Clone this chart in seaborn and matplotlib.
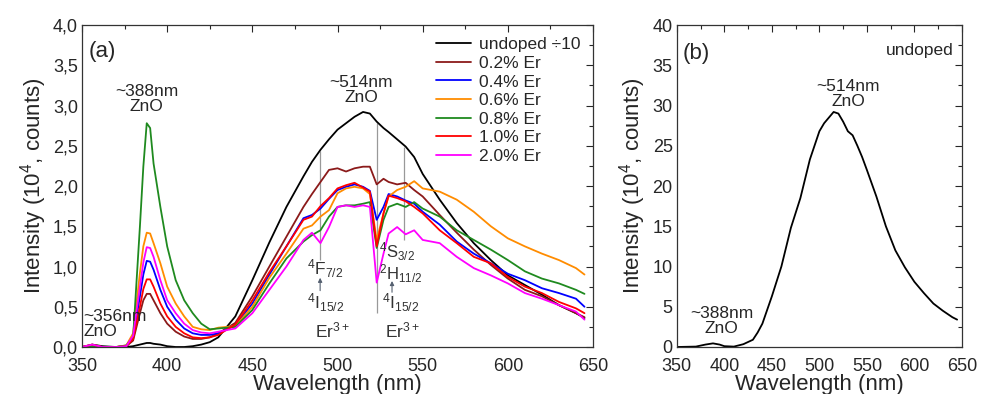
import matplotlib
matplotlib.use("Agg")
import matplotlib.pyplot as plt
from matplotlib.ticker import MultipleLocator, FuncFormatter
from matplotlib.lines import Line2D
import numpy as np
import pandas as pd
import seaborn as sns

# ---- panel (a): PL spectra, wavelength grid shared by all samples ----
wavelength_a = [350, 356, 362, 370, 376, 380, 384, 386, 388, 390, 392, 396, 400, 405,
                410, 415, 420, 425, 430, 440, 450, 460, 470, 480, 485, 490, 495, 500,
                505, 510, 515, 519, 523, 527, 530, 535, 540, 545, 550, 560, 570, 580,
                590, 600, 610, 620, 630, 640, 645]

undoped_div10 = [0.0, 0.03, 0.01, 0.0, 0.0, 0.01, 0.03, 0.04, 0.05, 0.05, 0.04, 0.03, 0.01, 0.0,
                 0.0, 0.01, 0.03, 0.06, 0.12, 0.38, 0.83, 1.30, 1.74, 2.12, 2.30, 2.45, 2.58, 2.70,
                 2.78, 2.86, 2.92, 2.90, 2.80, 2.72, 2.67, 2.58, 2.49, 2.36, 2.15, 1.83, 1.54, 1.29,
                 1.08, 0.89, 0.77, 0.65, 0.52, 0.42, 0.36]
er_02 = [0.0, 0.02, 0.0, 0.0, 0.01, 0.08, 0.42, 0.58, 0.66, 0.66, 0.58, 0.42, 0.29, 0.19,
         0.13, 0.10, 0.10, 0.12, 0.17, 0.30, 0.63, 1.00, 1.37, 1.74, 1.90, 2.05, 2.20, 2.22,
         2.18, 2.22, 2.24, 2.24, 2.02, 2.09, 2.05, 2.02, 2.04, 1.95, 1.87, 1.64, 1.42, 1.21,
         1.02, 0.85, 0.71, 0.63, 0.52, 0.42, 0.37]
er_04 = [0.0, 0.01, 0.0, 0.0, 0.01, 0.12, 0.63, 0.90, 1.07, 1.06, 0.96, 0.71, 0.50, 0.34,
         0.23, 0.17, 0.15, 0.15, 0.17, 0.27, 0.54, 0.90, 1.25, 1.60, 1.64, 1.72, 1.84, 1.95,
         1.99, 2.02, 1.99, 1.94, 1.58, 1.74, 1.90, 1.87, 1.82, 1.78, 1.68, 1.52, 1.31, 1.16,
         1.04, 0.91, 0.83, 0.73, 0.67, 0.60, 0.50]
er_06 = [0.0, 0.01, 0.0, 0.0, 0.02, 0.17, 0.92, 1.25, 1.42, 1.41, 1.29, 1.04, 0.75, 0.54,
         0.38, 0.25, 0.22, 0.21, 0.24, 0.26, 0.50, 0.86, 1.16, 1.47, 1.51, 1.62, 1.70, 1.91,
         1.97, 1.99, 1.97, 1.90, 1.33, 1.66, 1.87, 1.95, 1.99, 2.06, 1.97, 1.93, 1.83, 1.68,
         1.50, 1.35, 1.25, 1.16, 1.08, 0.98, 0.90]
er_08 = [0.0, 0.01, 0.0, 0.0, 0.02, 0.12, 1.50, 2.24, 2.78, 2.72, 2.28, 1.74, 1.25, 0.83,
         0.58, 0.42, 0.29, 0.22, 0.23, 0.25, 0.46, 0.79, 1.10, 1.31, 1.39, 1.45, 1.62, 1.74,
         1.76, 1.76, 1.78, 1.80, 1.23, 1.58, 1.74, 1.78, 1.74, 1.80, 1.72, 1.62, 1.45, 1.33,
         1.21, 1.08, 0.94, 0.85, 0.79, 0.71, 0.66]
er_10 = [0.0, 0.03, 0.0, 0.0, 0.01, 0.10, 0.50, 0.72, 0.84, 0.84, 0.75, 0.54, 0.38, 0.25,
         0.17, 0.12, 0.11, 0.12, 0.15, 0.28, 0.58, 0.93, 1.25, 1.58, 1.62, 1.75, 1.85, 1.97,
         2.01, 2.04, 1.98, 1.93, 1.25, 1.66, 1.88, 1.85, 1.81, 1.74, 1.66, 1.45, 1.29, 1.12,
         1.04, 0.87, 0.75, 0.67, 0.56, 0.48, 0.42]
er_20 = [0.0, 0.03, 0.0, 0.0, 0.01, 0.14, 0.75, 1.05, 1.24, 1.23, 1.12, 0.83, 0.58, 0.42,
         0.29, 0.21, 0.18, 0.17, 0.19, 0.23, 0.42, 0.71, 1.00, 1.33, 1.42, 1.29, 1.49, 1.74,
         1.76, 1.74, 1.76, 1.74, 0.80, 1.16, 1.41, 1.49, 1.40, 1.45, 1.33, 1.29, 1.12, 0.98,
         0.89, 0.79, 0.67, 0.60, 0.52, 0.44, 0.34]

sample_labels = ["undoped \u00f710", "0.2% Er", "0.4% Er", "0.6% Er", "0.8% Er", "1.0% Er", "2.0% Er"]
sample_colors = ["#000000", "#8b1a1a", "#0000ff", "#ff8c00", "#1f8a1f", "#ff0000", "#ff00ff"]

# Er3+ absorption lines marked in (a): wavelength, lower and upper end of marker
er_line_nm = [490, 523, 539]
er_line_lo = [1.08, 0.42, 1.33]
er_line_hi = [2.43, 2.78, 2.49]

# small excitation arrows under the transition labels (nm, tail, head)
arrow_nm = [489.8, 532.0]
arrow_lo = [0.70, 0.68]
arrow_hi = [0.86, 0.82]

# ---- panel (b): undoped sample, full scale ----
wavelength_b = [350, 370, 380, 388, 395, 400, 410, 420, 430, 435, 440, 450, 460, 470, 480,
                490, 500, 505, 510, 515, 520, 525, 530, 535, 540, 545, 550, 560, 570, 580,
                590, 600, 610, 620, 630, 640, 645]
undoped_b = [0.0, 0.05, 0.3, 0.45, 0.3, 0.1, 0.05, 0.35, 0.9, 1.8, 2.9, 6.3, 10.0, 14.8, 18.5,
             23.3, 26.8, 27.8, 28.5, 29.2, 29.0, 28.0, 26.8, 26.3, 25.0, 23.6, 22.0, 18.7, 15.0, 12.0,
             9.9, 8.1, 6.7, 5.4, 4.5, 3.7, 3.4]

series_a = [undoped_div10, er_02, er_04, er_06, er_08, er_10, er_20]
df_a = pd.concat(
    [pd.DataFrame({"wl": wavelength_a, "I": vals, "sample": lab})
     for vals, lab in zip(series_a, sample_labels)],
    ignore_index=True,
)
df_b = pd.DataFrame({"wl": wavelength_b, "I": undoped_b})

sns.set_style("white")
plt.rcParams["font.family"] = ["Liberation Sans", "DejaVu Sans"]
plt.rcParams["mathtext.default"] = "regular"

fig = plt.figure(figsize=(9.81, 3.94), dpi=100)
ax_a = fig.add_axes([0.0836, 0.1193, 0.5209, 0.8172])
ax_b = fig.add_axes([0.690, 0.1193, 0.2905, 0.8172])

palette = dict(zip(sample_labels, sample_colors))
sns.lineplot(data=df_a, x="wl", y="I", hue="sample", palette=palette, ax=ax_a,
             estimator=None, sort=False, linewidth=1.3, legend=False)
sns.lineplot(data=df_b, x="wl", y="I", color="black", ax=ax_b,
             estimator=None, sort=False, linewidth=1.3, legend=False)

ax_a.vlines(er_line_nm, er_line_lo, er_line_hi, colors="#999999", linewidth=0.9, zorder=0)
for x, lo, hi in zip(arrow_nm, arrow_lo, arrow_hi):
    ax_a.annotate("", xy=(x, hi), xytext=(x, lo),
                  arrowprops=dict(arrowstyle="-|>", color="#556070", lw=0.8,
                                  mutation_scale=6, shrinkA=0, shrinkB=0))

comma = FuncFormatter(lambda v, p: f"{v:.1f}".replace(".", ","))
for ax in (ax_a, ax_b):
    ax.set_xlim(350, 650)
    ax.xaxis.set_major_locator(MultipleLocator(50))
    ax.xaxis.set_minor_locator(MultipleLocator(25))
    ax.tick_params(which="both", direction="in", top=True, right=True, labelsize=13)
    ax.tick_params(axis="y", pad=3)
    ax.tick_params(axis="x", pad=8)
    ax.tick_params(which="major", length=5, width=0.8)
    ax.tick_params(which="minor", length=3, width=0.8)
    for s in ax.spines.values():
        s.set_linewidth(0.9)
        s.set_color("#333333")
    ax.set_xlabel("Wavelength (nm)", fontsize=16, labelpad=-1)
    ax.set_ylabel("Intensity (10$^4$, counts)", fontsize=16, labelpad=3)

ax_a.set_ylim(0, 4.0)
ax_a.yaxis.set_major_locator(MultipleLocator(0.5))
ax_a.yaxis.set_minor_locator(MultipleLocator(0.25))
ax_a.yaxis.set_major_formatter(comma)

ax_b.set_ylim(0, 40)
ax_b.yaxis.set_major_locator(MultipleLocator(5))
ax_b.yaxis.set_minor_locator(MultipleLocator(2.5))

handles = [Line2D([], [], color=c, lw=1.3) for c in sample_colors]
ax_a.legend(handles, sample_labels, loc="upper right", frameon=False, fontsize=12.5,
            handlelength=2.0, handletextpad=0.5, labelspacing=0.2,
            borderaxespad=0.4, borderpad=0.3)

# annotations (a)
ax_a.text(0.012, 0.918, "(a)", transform=ax_a.transAxes, fontsize=16, va="center")
ax_a.text(388, 3.08, "~388nm\nZnO", ha="center", va="center", fontsize=12.5, linespacing=1.0)
ax_a.text(350.6, 0.29, "~356nm\nZnO", ha="left", va="center", fontsize=12.5, linespacing=1.0)
ax_a.text(514, 3.19, "~514nm\nZnO", ha="center", va="center", fontsize=12.5, linespacing=1.0)

trans_col = "#333333"
ax_a.text(482, 0.97, "$^4$F$_{7/2}$", fontsize=12.5, color=trans_col, va="center")
ax_a.text(482, 0.55, "$^4$I$_{15/2}$", fontsize=12.5, color=trans_col, va="center")
ax_a.text(486.5, 0.20, "Er$^{3+}$", fontsize=12.5, color=trans_col, va="center")

ax_a.text(524.4, 1.18, "$^4$S$_{3/2}$", fontsize=12, color=trans_col, va="center")
ax_a.text(524.4, 0.91, "$^2$H$_{11/2}$", fontsize=12, color=trans_col, va="center")
ax_a.text(526, 0.55, "$^4$I$_{15/2}$", fontsize=12.5, color=trans_col, va="center")
ax_a.text(528, 0.20, "Er$^{3+}$", fontsize=12.5, color=trans_col, va="center")

# annotations (b)
ax_b.text(0.02, 0.91, "(b)", transform=ax_b.transAxes, fontsize=16, va="center")
ax_b.text(0.97, 0.92, "undoped", transform=ax_b.transAxes, fontsize=12.5, ha="right", va="center")
ax_b.text(530, 31.4, "~514nm\nZnO", ha="center", va="center", fontsize=12.5, linespacing=1.0)
ax_b.text(397, 3.2, "~388nm\nZnO", ha="center", va="center", fontsize=12.5, linespacing=1.0)

fig.savefig("out.png", dpi=100)
